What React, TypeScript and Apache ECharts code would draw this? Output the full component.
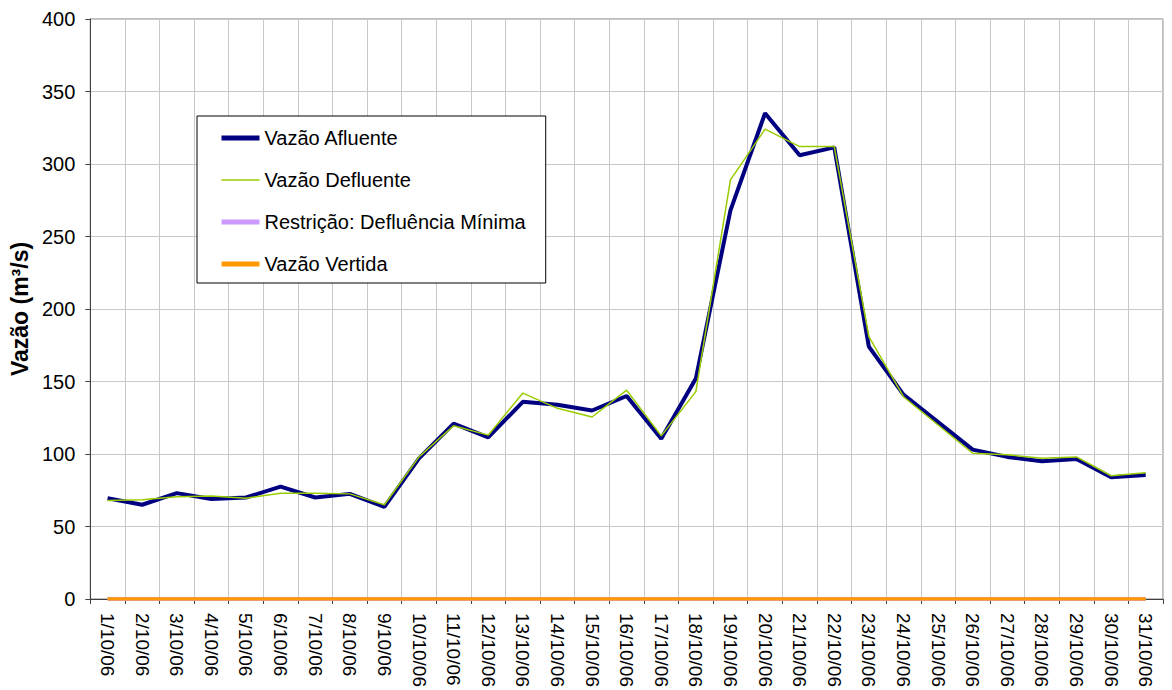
import React, { useEffect, useRef } from "react";
import * as echarts from "echarts";

const categories = [
  "1/10/06", "2/10/06", "3/10/06", "4/10/06", "5/10/06", "6/10/06", "7/10/06", "8/10/06",
  "9/10/06", "10/10/06", "11/10/06", "12/10/06", "13/10/06", "14/10/06", "15/10/06", "16/10/06",
  "17/10/06", "18/10/06", "19/10/06", "20/10/06", "21/10/06", "22/10/06", "23/10/06", "24/10/06",
  "25/10/06", "26/10/06", "27/10/06", "28/10/06", "29/10/06", "30/10/06", "31/10/06",
];

const vazaoAfluente = [
  69.5, 65, 73, 69, 70, 77.5, 70, 72.5, 63.5, 97, 121, 111.5, 136, 134, 130, 140,
  110.5, 152, 268, 335, 306, 311.5, 174, 141, 122, 103, 98, 95, 96.5, 84, 85.5,
];

const vazaoDefluente = [
  68, 68.5, 70.5, 71, 69.5, 73, 73, 72.5, 65, 98, 119.5, 113, 142, 131.5, 125.5, 144,
  112.5, 143, 289, 324, 312, 312, 181, 139.5, 120, 100.5, 99.5, 97, 98, 85, 87,
];

const restricaoMinima = [
  0, 0, 0, 0, 0, 0, 0, 0, 0, 0, 0, 0, 0, 0, 0, 0,
  0, 0, 0, 0, 0, 0, 0, 0, 0, 0, 0, 0, 0, 0, 0,
];

const vazaoVertida = [
  0, 0, 0, 0, 0, 0, 0, 0, 0, 0, 0, 0, 0, 0, 0, 0,
  0, 0, 0, 0, 0, 0, 0, 0, 0, 0, 0, 0, 0, 0, 0,
];

const FONT = "Liberation Sans, Arial, sans-serif";

export default function App() {
  const ref = useRef<HTMLDivElement>(null);

  useEffect(() => {
    if (!ref.current) return;
    const chart = echarts.init(ref.current, null, { renderer: "svg" });
    chart.setOption({
      animation: false,
      backgroundColor: "#ffffff",
      textStyle: { fontFamily: FONT },
      grid: { left: 86, top: 19, right: 9, bottom: 91, show: true, borderColor: "#808080", borderWidth: 1 },
      legend: {
        orient: "vertical",
        left: 197,
        top: 116,
        padding: [12, 20, 9, 22],
        itemWidth: 38,
        itemHeight: 20,
        itemGap: 22,
        backgroundColor: "#ffffff",
        borderColor: "#000000",
        borderWidth: 1,
        itemStyle: { opacity: 0 },
        textStyle: { fontFamily: FONT, fontSize: 20, color: "#000000" },
        data: [
          { name: "Vazão Afluente", lineStyle: { color: "#000080", width: 5 } },
          { name: "Vazão Defluente", lineStyle: { color: "#99cc00", width: 1.5 } },
          { name: "Restrição: Defluência Mínima", lineStyle: { color: "#cc99ff", width: 5 } },
          { name: "Vazão Vertida", lineStyle: { color: "#ff9900", width: 5 } },
        ],
      },
      xAxis: {
        type: "category",
        data: categories,
        boundaryGap: true,
        axisLine: { lineStyle: { color: "#404040", width: 1 } },
        axisTick: { show: true, interval: 0, length: 5, lineStyle: { color: "#404040" } },
        axisLabel: {
          interval: 0,
          rotate: -90,
          margin: 14,
          fontSize: 19,
          color: "#000000",
          fontFamily: FONT,
        },
        splitLine: { show: true, interval: 0, lineStyle: { color: "#c8c8c8", width: 1 } },
      },
      yAxis: {
        type: "value",
        min: 0,
        max: 400,
        interval: 50,
        name: "Vazão (m³/s)",
        nameLocation: "middle",
        nameGap: 58,
        nameTextStyle: { fontFamily: FONT, fontSize: 23, fontWeight: "bold", color: "#000000" },
        axisLine: { show: true, lineStyle: { color: "#404040", width: 1 } },
        axisTick: { show: true, length: 5, lineStyle: { color: "#404040" } },
        axisLabel: { fontSize: 20, color: "#000000", margin: 15, fontFamily: FONT },
        splitLine: { show: true, lineStyle: { color: "#c8c8c8", width: 1 } },
      },
      series: [
        {
          name: "Vazão Afluente",
          type: "line",
          data: vazaoAfluente,
          symbol: "none",
          color: "#000080",
          lineStyle: { color: "#000080", width: 4 },
          z: 3,
        },
        {
          name: "Vazão Defluente",
          type: "line",
          data: vazaoDefluente,
          symbol: "none",
          color: "#99cc00",
          lineStyle: { color: "#99cc00", width: 1.5 },
          z: 4,
        },
        {
          name: "Restrição: Defluência Mínima",
          type: "line",
          data: restricaoMinima,
          symbol: "none",
          color: "#cc99ff",
          lineStyle: { color: "#cc99ff", width: 4 },
          z: 2,
        },
        {
          name: "Vazão Vertida",
          type: "line",
          data: vazaoVertida,
          symbol: "none",
          color: "#ff9900",
          lineStyle: { color: "#ff9900", width: 3.5 },
          z: 5,
        },
      ],
    });
    return () => chart.dispose();
  }, []);

  return (
    <div style={{ position: "fixed", left: 0, top: 0, width: 1172, height: 690, background: "#fff" }}>
      <div ref={ref} style={{ width: 1172, height: 690 }} />
    </div>
  );
}
